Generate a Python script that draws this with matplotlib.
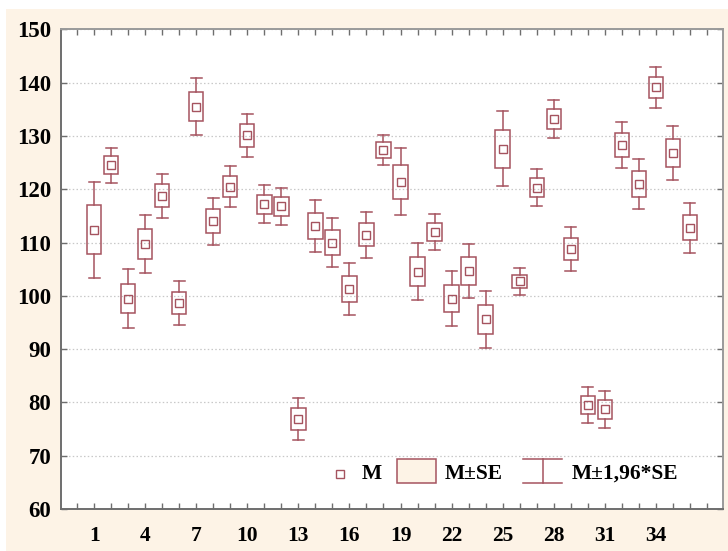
import matplotlib
matplotlib.use("Agg")
import matplotlib.pyplot as plt
from matplotlib.patches import Rectangle
from matplotlib.lines import Line2D
import numpy as np

# Group means (M) and standard errors (SE) for groups 1..36
groups = list(range(1, 37))
means = [112.4, 124.5, 99.5, 109.7, 118.8, 98.7, 135.5, 114.0, 120.5, 130.1,
         117.2, 116.8, 76.9, 113.1, 110.0, 101.3, 111.5, 127.4, 121.4, 104.55,
         112.0, 99.5, 104.7, 95.6, 127.6, 102.7, 120.3, 133.2, 108.8, 79.5,
         78.7, 128.3, 121.0, 139.1, 126.8, 112.8]
se = [4.6, 1.7, 2.8, 2.8, 2.1, 2.1, 2.7, 2.25, 2.0, 2.1,
      1.8, 1.75, 2.0, 2.5, 2.35, 2.5, 2.2, 1.45, 3.2, 2.7,
      1.75, 2.6, 2.6, 2.75, 3.6, 1.25, 1.8, 1.85, 2.1, 1.75,
      1.75, 2.2, 2.4, 2.0, 2.6, 2.4]
z = 1.96

xtick_labels = [1, 4, 7, 10, 13, 16, 19, 22, 25, 28, 31, 34]
yticks = [60, 70, 80, 90, 100, 110, 120, 130, 140, 150]
legend_labels = ["M", "M\u00b1SE", "M\u00b11,96*SE"]

COLOR = "#a5535f"
PANEL = "#fdf3e6"
SERIF = ["Liberation Serif", "DejaVu Serif"]

W, H = 728, 551
fig = plt.figure(figsize=(W / 100, H / 100), dpi=100, facecolor="white")
# beige panel behind everything
fig.patches.append(Rectangle((6 / W, 0), 1 - 6 / W, (H - 9) / H,
                             transform=fig.transFigure, facecolor=PANEL,
                             edgecolor="none", zorder=-10))

ax_l, ax_r, ax_t, ax_b = 61, 723, 29.4, 509
ax = fig.add_axes([ax_l / W, (H - ax_b) / H, (ax_r - ax_l) / W, (ax_b - ax_t) / H])
ax.set_facecolor("white")

box_w = 0.84
cap_w = 0.64
lw = 1.1
for g, m, s in zip(groups, means, se):
    lo, hi = m - z * s, m + z * s
    # whiskers with caps
    ax.plot([g, g], [lo, m - s], color=COLOR, lw=lw, zorder=3)
    ax.plot([g, g], [m + s, hi], color=COLOR, lw=lw, zorder=3)
    ax.plot([g - cap_w / 2, g + cap_w / 2], [lo, lo], color=COLOR, lw=lw, zorder=3)
    ax.plot([g - cap_w / 2, g + cap_w / 2], [hi, hi], color=COLOR, lw=lw, zorder=3)
    # SE box
    ax.add_patch(Rectangle((g - box_w / 2, m - s), box_w, 2 * s, facecolor="none",
                           edgecolor=COLOR, lw=lw, zorder=3))
# mean markers
ax.plot(groups, means, linestyle="none", marker="s", markersize=5.4,
        markerfacecolor="none", markeredgecolor=COLOR, markeredgewidth=1.0, zorder=4)

ax.set_xlim(-0.95, 37.95)
ax.set_ylim(60, 150)
ax.set_yticks(yticks)
ax.set_xticks(xtick_labels)
ax.set_xticks(range(0, 38), minor=True)
ax.grid(axis="y", color="#c8c8c8", lw=0.9, linestyle=(0, (1.2, 1.8)), zorder=0)

ax.tick_params(axis="both", which="both", direction="in", top=True, right=True,
               color="#6e6e6e", width=1.0)
ax.tick_params(axis="x", which="major", length=4, pad=12)
ax.tick_params(axis="x", which="minor", length=4)
ax.tick_params(axis="y", which="major", length=4, pad=7)

for lab in ax.get_xticklabels():
    lab.set_family(SERIF); lab.set_fontweight("bold"); lab.set_fontsize(15.5)
for lab in ax.get_yticklabels():
    lab.set_family(SERIF); lab.set_fontweight("bold"); lab.set_fontsize(16.5)

for side in ["left", "bottom"]:
    ax.spines[side].set_color("#6e6e6e")
    ax.spines[side].set_linewidth(1.4)
for side in ["top", "right"]:
    ax.spines[side].set_color("#9a9a9a")
    ax.spines[side].set_linewidth(1.4)


# legend drawn in axes coordinates from pixel positions
def af(px, py):
    return ((px - ax_l) / (ax_r - ax_l), (ax_b - py) / (ax_b - ax_t))


ly, ytop, ybot = 474, 459.3, 483.3
x0, y0 = af(340, ly)
ax.add_line(Line2D([x0], [y0], marker="s", markersize=5.4, markerfacecolor="none",
                   markeredgecolor=COLOR, markeredgewidth=1.0,
                   transform=ax.transAxes, clip_on=False))
ax.text(*af(362, ly), legend_labels[0], transform=ax.transAxes, va="center",
        ha="left", family=SERIF, fontweight="bold", fontsize=15.5)

rx0, ry0 = af(397, ybot)
rx1, ry1 = af(436, ytop)
ax.add_patch(Rectangle((rx0, ry0), rx1 - rx0, ry1 - ry0, transform=ax.transAxes,
                       facecolor=PANEL, edgecolor=COLOR, lw=lw, clip_on=False))
ax.text(*af(445, ly), legend_labels[1], transform=ax.transAxes, va="center",
        ha="left", family=SERIF, fontweight="bold", fontsize=15.5)

wx0, wy_t = af(523, ytop)
wx1, wy_b = af(562, ybot)
wxm = (wx0 + wx1) / 2
for xs, ys in [([wx0, wx1], [wy_t, wy_t]), ([wx0, wx1], [wy_b, wy_b]),
               ([wxm, wxm], [wy_t, wy_b])]:
    ax.add_line(Line2D(xs, ys, color=COLOR, lw=lw, transform=ax.transAxes,
                       clip_on=False))
ax.text(*af(572, ly), legend_labels[2], transform=ax.transAxes, va="center",
        ha="left", family=SERIF, fontweight="bold", fontsize=15.5)

fig.savefig("out.png", dpi=100, facecolor=fig.get_facecolor())
